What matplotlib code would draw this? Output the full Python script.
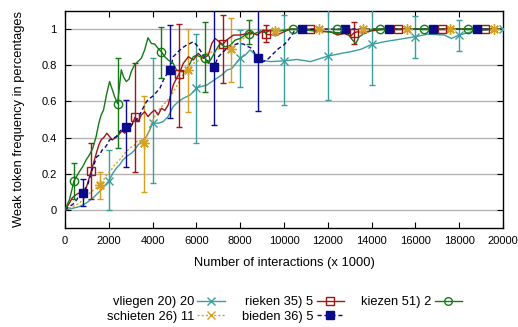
import matplotlib
matplotlib.use("Agg")
import numpy as np
import matplotlib.pyplot as plt
from matplotlib.lines import Line2D

plt.rcParams["font.family"] = ["Liberation Sans", "DejaVu Sans"]
plt.rcParams["font.size"] = 9.3

# curves: interactions (x 1000) vs weak token frequency
vl_x = [0, 350, 656, 963, 1267, 1496, 1725, 2000, 2185, 2340, 2493, 2645, 2800, 3029, 3180, 3332,
        3488, 3717, 3870, 4000, 4250, 4480, 4710, 4940, 5170, 5400, 5705, 5935, 6000, 6470, 6700,
        6930, 7160, 7390, 7620, 8000, 8230, 8450, 8920, 9370, 10000, 10600, 11210, 11670, 12000,
        12590, 13050, 13510, 14000, 14580, 15190, 16000, 16570, 17330, 17640, 18000, 18560, 19160, 20000]
vl_y = [0, 0.009, 0.018, 0.037, 0.065, 0.092, 0.12, 0.16, 0.203, 0.23, 0.249, 0.276, 0.294, 0.313, 0.331, 0.359,
        0.378, 0.405, 0.442, 0.48, 0.479, 0.488, 0.516, 0.571, 0.598, 0.617, 0.635, 0.663, 0.675, 0.69, 0.709,
        0.728, 0.746, 0.773, 0.782, 0.84, 0.856, 0.885, 0.829, 0.82, 0.824, 0.832, 0.82, 0.838, 0.85,
        0.865, 0.875, 0.888, 0.915, 0.93, 0.942, 0.958, 0.972, 0.967, 0.948, 0.967, 0.985, 0.994, 1.0]

sc_x = [0, 350, 656, 886, 1115, 1345, 1600, 1804, 1955, 2111, 2263, 2493, 2722, 2951, 3180, 3332,
        3600, 3791, 3945, 4099, 4330, 4560, 4710, 4940, 5170, 5400, 5600, 5857, 6164, 6470, 6775,
        7080, 7390, 7600, 7850, 8150, 8380, 8900, 9600, 10200, 20000]
sc_y = [0, 0.018, 0.037, 0.065, 0.092, 0.114, 0.135, 0.175, 0.203, 0.221, 0.249, 0.276, 0.313, 0.341, 0.359, 0.387,
        0.37, 0.424, 0.479, 0.516, 0.56, 0.59, 0.61, 0.65, 0.7, 0.75, 0.775, 0.81, 0.83, 0.866, 0.875,
        0.893, 0.893, 0.888, 0.92, 0.948, 0.967, 0.98, 0.99, 1.0, 1.0]

ri_x = [0, 197, 321, 427, 581, 808, 963, 1200, 1345, 1450, 1544, 1650, 1804, 1910, 2157, 2368,
        2615, 2722, 2875, 3029, 3200, 3332, 3488, 3640, 3791, 3945, 4099, 4250, 4405, 4560, 4710,
        4864, 4940, 5095, 5200, 5400, 5630, 5860, 6086, 6316, 6545, 6700, 6853, 7200, 7390, 7693,
        8000, 8300, 8460, 8767, 9070, 9200, 9685, 10000, 10300, 12130, 12440, 12750, 13050, 13200,
        13360, 13660, 13970, 14270, 14600, 20000]
ri_y = [0, 0.037, 0.065, 0.077, 0.09, 0.101, 0.12, 0.215, 0.276, 0.322, 0.359, 0.387, 0.405, 0.424, 0.387, 0.405,
        0.438, 0.424, 0.442, 0.464, 0.513, 0.488, 0.525, 0.543, 0.516, 0.538, 0.552, 0.525, 0.562, 0.55, 0.58,
        0.654, 0.69, 0.728, 0.75, 0.81, 0.847, 0.829, 0.866, 0.838, 0.856, 0.92, 0.948, 0.915, 0.94, 0.967,
        0.967, 0.975, 0.985, 0.967, 0.994, 0.97, 0.967, 0.985, 1.0, 0.985, 0.967, 0.976, 0.961, 0.98,
        0.985, 0.976, 0.99, 0.994, 1.0, 1.0]

bi_x = [0, 197, 427, 578, 800, 886, 1037, 1147, 1239, 1345, 1450, 1574, 1698, 1804, 1910, 2034,
        2341, 2493, 2645, 2800, 2951, 3103, 3259, 3410, 3562, 3717, 3870, 4020, 4330, 4557, 4800,
        4940, 5170, 5325, 5555, 5705, 5857, 6010, 6164, 6316, 6470, 6623, 6800, 7004, 7234, 7463,
        7693, 7923, 8150, 8380, 8537, 8800, 9070, 9300, 9530, 9760, 9990, 10140, 10300, 10450,
        10600, 20000]
bi_y = [0, 0.018, 0.037, 0.065, 0.095, 0.11, 0.138, 0.184, 0.221, 0.258, 0.294, 0.304, 0.331, 0.341, 0.359, 0.387,
        0.405, 0.433, 0.451, 0.456, 0.46, 0.479, 0.497, 0.525, 0.562, 0.598, 0.617, 0.63, 0.672, 0.736, 0.771,
        0.847, 0.875, 0.893, 0.912, 0.92, 0.93, 0.912, 0.884, 0.856, 0.829, 0.81, 0.79, 0.847, 0.875, 0.902,
        0.912, 0.92, 0.917, 0.902, 0.893, 0.838, 0.82, 0.838, 0.866, 0.893, 0.912, 0.93, 0.957, 0.985,
        1.0, 1.0]

ki_x = [0, 199, 350, 400, 505, 656, 808, 963, 1115, 1267, 1420, 1544, 1650, 1758, 1900, 2035,
        2264, 2400, 2570, 2677, 2800, 2922, 3029, 3182, 3335, 3488, 3640, 3790, 3945, 4100, 4250,
        4400, 4557, 4710, 4940, 5095, 5325, 5555, 5705, 5857, 6010, 6163, 6400, 6545, 6700, 6850,
        7080, 7310, 7540, 7770, 8000, 8230, 8400, 8690, 8920, 9150, 9380, 9700, 10000, 10400,
        12900, 13130, 13280, 13430, 13660, 13890, 14100, 20000]
ki_y = [0, 0.055, 0.129, 0.158, 0.18, 0.212, 0.239, 0.276, 0.304, 0.341, 0.405, 0.479, 0.525, 0.552, 0.64, 0.71,
        0.627, 0.587, 0.775, 0.734, 0.71, 0.723, 0.766, 0.803, 0.821, 0.839, 0.886, 0.952, 0.92, 0.917, 0.893,
        0.875, 0.847, 0.829, 0.81, 0.773, 0.764, 0.773, 0.81, 0.847, 0.856, 0.847, 0.84, 0.81, 0.84, 0.875,
        0.92, 0.902, 0.91, 0.939, 0.948, 0.967, 0.975, 0.976, 0.99, 0.98, 0.994, 0.985, 0.994, 1.0,
        0.976, 0.939, 0.92, 0.957, 0.976, 0.99, 1.0, 1.0]

# marker positions with error bar low / high bounds
vl_mx = [2000, 4000, 6000, 8000, 10000, 12000, 14000, 16000, 18000, 20000]
vl_my = [0.16, 0.48, 0.675, 0.84, 0.824, 0.85, 0.915, 0.958, 0.967, 1.0]
vl_lo = [0.0, 0.15, 0.37, 0.68, 0.58, 0.608, 0.69, 0.84, 0.88, 1.0]
vl_hi = [0.332, 0.84, 0.97, 0.994, 1.077, 1.12, 1.12, 1.075, 1.05, 1.0]

sc_mx = [1600, 3600, 5600, 7600, 9600, 11600, 13600, 15600, 17600, 19600]
sc_my = [0.135, 0.37, 0.775, 0.888, 0.99, 1.0, 1.0, 1.0, 1.0, 1.0]
sc_lo = [0.06, 0.1, 0.54, 0.71, 0.98, 1.0, 0.99, 1.0, 1.0, 1.0]
sc_hi = [0.21, 0.63, 1.0, 1.06, 1.0, 1.0, 1.01, 1.0, 1.0, 1.0]

ri_mx = [1200, 3200, 5200, 7200, 9200, 11200, 13200, 15200, 17200, 19200]
ri_my = [0.215, 0.513, 0.75, 0.915, 0.97, 1.0, 0.98, 1.0, 1.0, 1.0]
ri_lo = [0.06, 0.21, 0.46, 0.7, 0.93, 1.0, 0.92, 1.0, 1.0, 1.0]
ri_hi = [0.37, 0.81, 1.03, 1.08, 1.02, 1.0, 1.04, 1.0, 1.0, 1.0]

bi_mx = [800, 2800, 4800, 6800, 8800, 10800, 12800, 14800, 16800, 18800]
bi_my = [0.095, 0.456, 0.771, 0.79, 0.838, 1.0, 1.0, 1.0, 1.0, 1.0]
bi_lo = [0.02, 0.24, 0.51, 0.47, 0.547, 1.0, 1.0, 1.0, 1.0, 1.0]
bi_hi = [0.17, 0.61, 1.02, 1.12, 1.12, 1.0, 1.0, 1.0, 1.0, 1.0]

ki_mx = [400, 2400, 4400, 6400, 8400, 10400, 12400, 14400, 16400, 18400]
ki_my = [0.158, 0.587, 0.875, 0.84, 0.975, 1.0, 1.0, 1.0, 1.0, 1.0]
ki_lo = [0.06, 0.34, 0.73, 0.65, 0.92, 1.0, 1.0, 1.0, 1.0, 1.0]
ki_hi = [0.26, 0.84, 1.01, 1.04, 1.05, 1.0, 1.0, 1.0, 1.0, 1.0]

labels = ["vliegen 20) 20", "schieten 26) 11", "rieken 35) 5", "bieden 36) 5", "kiezen 51) 2"]

c_vl = "#3c9e9e"
c_sc = "#d8a020"
c_ri = "#a01515"
c_bi = "#0a0a8a"
c_ki = "#157a15"

series = [
    (vl_x, vl_y, vl_mx, vl_my, vl_lo, vl_hi, c_vl, "-", "x", "none"),
    (sc_x, sc_y, sc_mx, sc_my, sc_lo, sc_hi, c_sc, (0, (1.5, 1.5)), (8, 2, 0), "none"),
    (ri_x, ri_y, ri_mx, ri_my, ri_lo, ri_hi, c_ri, "-", "s", "none"),
    (bi_x, bi_y, bi_mx, bi_my, bi_lo, bi_hi, c_bi, (0, (3, 2)), "s", "fill"),
    (ki_x, ki_y, ki_mx, ki_my, ki_lo, ki_hi, c_ki, "-", "o", "none"),
]

fig = plt.figure(figsize=(5.18, 3.27), dpi=100)
ax = fig.add_axes([0.1255, 0.3028, 0.8455, 0.6636])

handles = []
for x, y, mx, my, lo, hi, col, ls, mk, fill in series:
    ax.plot(x, y, color=col, ls=ls, lw=1.0, zorder=3)
    my = np.array(my)
    yerr = [my - np.array(lo), np.array(hi) - my]
    face = col if fill == "fill" else "none"
    ms = 6 if mk != (8, 2, 0) else 7.5
    ax.errorbar(mx, my, yerr=yerr, fmt="none", ecolor=col, elinewidth=1.0,
                capsize=2.5, capthick=1.0, zorder=3)
    ax.plot(mx, my, ls="none", marker=mk, ms=ms, mfc=face, mec=col, mew=1.0, zorder=4)
    leg_mk = "x" if mk == (8, 2, 0) else mk
    handles.append(Line2D([], [], color=col, ls=ls, lw=1.0, marker=leg_mk, ms=5.5,
                          mfc=face, mec=col, mew=1.0))

ax.set_xlim(0, 20000)
ax.set_ylim(-0.1, 1.1)
ax.set_xticks(np.arange(0, 20001, 2000))
ax.set_yticks([0, 0.2, 0.4, 0.6, 0.8, 1.0])
ax.set_yticklabels(["0", "0.2", "0.4", "0.6", "0.8", "1"])
ax.yaxis.grid(True, color="#b4b4b4", lw=1.0)
ax.set_axisbelow(True)
ax.tick_params(direction="in", top=True, right=True, length=4, width=0.8, pad=6,
               labelsize=8.0)
for s in ax.spines.values():
    s.set_linewidth(1.0)

ax.set_xlabel("Number of interactions (x 1000)", labelpad=8)
ax.set_ylabel("Weak token frequency in percentages")
ax.yaxis.set_label_coords(-0.092, 0.5)

fig.legend(handles, labels, ncol=3, markerfirst=False, frameon=False,
           loc="center", bbox_to_anchor=(0.549, 0.054), handlelength=2.1,
           handletextpad=0.25, columnspacing=1.35, labelspacing=0.2)

fig.savefig("out.png", dpi=100)
